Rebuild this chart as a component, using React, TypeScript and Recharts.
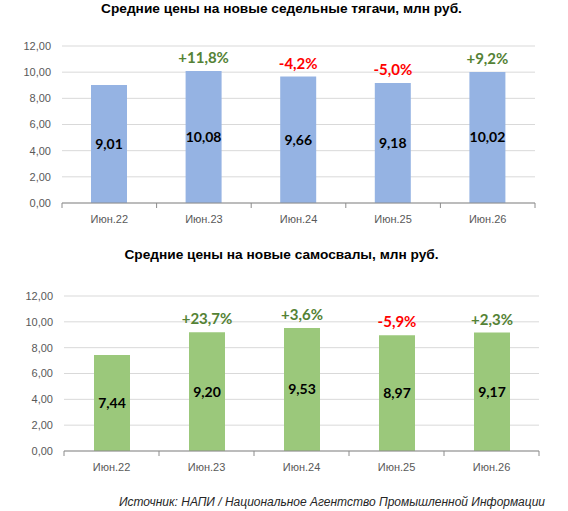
import React from "react";
import { Bar, BarChart, CartesianGrid, LabelList, XAxis, YAxis } from "recharts";

const categories = ["Июн.22", "Июн.23", "Июн.24", "Июн.25", "Июн.26"];
const tractorPrices = [9.01, 10.08, 9.66, 9.18, 10.02];
const tractorChange = [null, 11.8, -4.2, -5.0, 9.2];
const dumpPrices = [7.44, 9.2, 9.53, 8.97, 9.17];
const dumpChange = [null, 23.7, 3.6, -5.9, 2.3];
const yTicks = [0, 2, 4, 6, 8, 10, 12];

const ARIAL = "'Liberation Sans', Arial, sans-serif";
const LABEL_FONT = "Lato, 'Open Sans', sans-serif";

const comma = (v: number, d: number) => v.toFixed(d).replace(".", ",");

function ChangeLabel(props: any) {
    const vb = props.viewBox ?? props;
    const { value } = props;
    if (value == null) return null;
    const x = vb.x + vb.width / 2;
    const txt = (value > 0 ? "+" : "") + comma(value, 1) + "%";
    return (
        <text
            x={x}
            y={vb.y - 8}
            textAnchor="middle"
            fill={value >= 0 ? "#548235" : "#ff0000"}
            fontFamily={LABEL_FONT}
            fontWeight={700}
            fontSize={15}
        >
            {txt}
        </text>
    );
}

function makeTick(band: number, count: number) {
    return function CatTick(props: any) {
        const { x, y, payload, index } = props;
        return (
            <g>
                <line x1={x - band / 2} x2={x - band / 2} y1={y} y2={y + 5} stroke="#8c8c8c" />
                {index === count - 1 && (
                    <line x1={x + band / 2} x2={x + band / 2} y1={y} y2={y + 5} stroke="#8c8c8c" />
                )}
                <text x={x} y={y + 20} textAnchor="middle" fill="#595959" fontFamily={ARIAL} fontSize={11}>
                    {payload.value}
                </text>
            </g>
        );
    };
}

interface PanelProps {
    prices: number[];
    change: (number | null)[];
    color: string;
    axisWidth: number;
    right: number;
    height: number;
}

function Panel({ prices, change, color, axisWidth, right, height }: PanelProps) {
    const W = 568;
    const data = categories.map((cat, i) => ({ cat, price: prices[i], change: change[i] }));
    const band = (W - axisWidth - right) / categories.length;
    return (
        <BarChart width={W} height={height} data={data} margin={{ top: 46, right, left: 0, bottom: 0 }}>
            <CartesianGrid vertical={false} stroke="#d9d9d9" />
            <YAxis
                domain={[0, 12]}
                ticks={yTicks}
                width={axisWidth}
                axisLine={false}
                tickLine={false}
                tickMargin={5}
                tickFormatter={(v: number) => comma(v, 2)}
                tick={{ fontSize: 11, fill: "#595959", fontFamily: ARIAL }}
            />
            <XAxis
                dataKey="cat"
                axisLine={{ stroke: "#8c8c8c" }}
                tickLine={false}
                tickSize={0}
                tickMargin={0}
                height={30}
                interval={0}
                tick={makeTick(band, categories.length)}
            />
            <Bar dataKey="price" fill={color} barSize={36} isAnimationActive={false}>
                <LabelList
                    dataKey="price"
                    position="center"
                    formatter={(v: any) => comma(Number(v), 2)}
                    fill="#000"
                    fontFamily={LABEL_FONT}
                    fontWeight={700}
                    fontSize={14}
                />
                <LabelList dataKey="change" content={<ChangeLabel />} />
            </Bar>
        </BarChart>
    );
}

const titleStyle: React.CSSProperties = {
    position: "absolute",
    left: 0,
    width: 563,
    textAlign: "center",
    fontFamily: ARIAL,
    fontWeight: 700,
    fontSize: 13.7,
    lineHeight: "14px",
    color: "#000",
};

export default function App() {
    return (
        <div style={{ position: "absolute", left: 0, top: 0, width: 568, height: 511, background: "#fff" }}>
            <div style={{ position: "absolute", left: 0, top: 0 }}>
                <Panel prices={tractorPrices} change={tractorChange} color="#95b3e3" axisWidth={62} right={33} height={233} />
            </div>
            <div style={{ position: "absolute", left: 0, top: 250 }}>
                <Panel prices={dumpPrices} change={dumpChange} color="#9bc87b" axisWidth={64} right={29} height={231} />
            </div>
            <div style={{ ...titleStyle, top: 2 }}>Средние цены на новые седельные тягачи, млн руб.</div>
            <div style={{ ...titleStyle, top: 248 }}>Средние цены на новые самосвалы, млн руб.</div>
            <div
                style={{
                    position: "absolute",
                    right: 23,
                    top: 495,
                    fontFamily: ARIAL,
                    fontStyle: "italic",
                    fontSize: 12,
                    lineHeight: "14px",
                    color: "#262626",
                    whiteSpace: "nowrap",
                }}
            >
                Источник: НАПИ / Национальное Агентство Промышленной Информации
            </div>
        </div>
    );
}
